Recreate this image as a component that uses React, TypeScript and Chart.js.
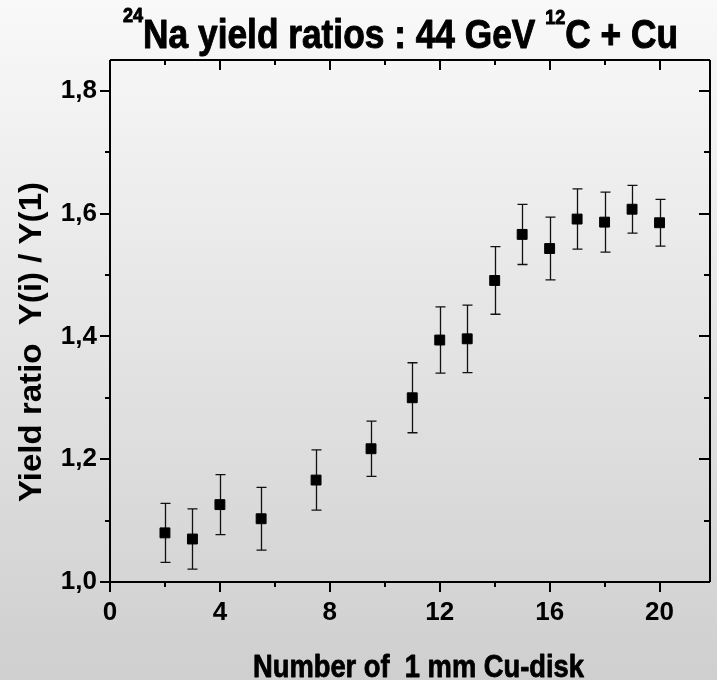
import React, { useEffect, useRef } from "react";
import { Chart, registerables } from "chart.js";

Chart.register(...registerables);

// Disk index (1 mm Cu disks) and measured 24Na yield ratio Y(i)/Y(1)
const diskNumber = [2, 3, 4, 5.5, 7.5, 9.5, 11, 12, 13, 14, 15, 16, 17, 18, 19, 20];
const yieldRatio = [
  1.08, 1.07, 1.126, 1.103, 1.166, 1.217, 1.3, 1.394, 1.396, 1.491, 1.566, 1.543, 1.591, 1.586,
  1.607, 1.585,
];
const ratioError = [
  0.048, 0.049, 0.049, 0.051, 0.049, 0.045, 0.057, 0.054, 0.055, 0.055, 0.049, 0.051, 0.049, 0.049,
  0.039, 0.038,
];

// Axis ranges and tick positions
const xRange = [0, 21.8];
const yRange = [1.0, 1.85];
const xMajorTicks = [0, 4, 8, 12, 16, 20];
const xMinorTicks = [2, 6, 10, 14, 18];
const yMajorTicks = [1.0, 1.2, 1.4, 1.6, 1.8];
const yMinorTicks = [1.1, 1.3, 1.5, 1.7];

const FONT = '"Liberation Sans", Arial, Helvetica, sans-serif';

type Run = { text: string; size: number; dy: number };

// Draw a sequence of text runs on one baseline, squeezed horizontally to span x0..x1
function drawFitted(
  ctx: CanvasRenderingContext2D,
  runs: Run[],
  x0: number,
  x1: number,
  baseline: number,
  heavy = 0
) {
  ctx.save();
  let total = 0;
  const widths = runs.map((r) => {
    ctx.font = `bold ${r.size}px ${FONT}`;
    const w = ctx.measureText(r.text).width;
    total += w;
    return w;
  });
  const sx = (x1 - x0) / total;
  ctx.translate(x0, baseline);
  ctx.scale(sx, 1);
  ctx.fillStyle = "#000";
  ctx.strokeStyle = "#000";
  ctx.lineWidth = heavy;
  ctx.lineJoin = "round";
  ctx.textAlign = "left";
  ctx.textBaseline = "alphabetic";
  let cx = 0;
  runs.forEach((r, i) => {
    ctx.font = `bold ${r.size}px ${FONT}`;
    ctx.fillText(r.text, cx, r.dy);
    if (heavy > 0) ctx.strokeText(r.text, cx, r.dy);
    cx += widths[i];
  });
  ctx.restore();
}

const backdrop = {
  id: "backdrop",
  beforeDraw(chart: any) {
    const { ctx, width, height } = chart;
    const g = ctx.createLinearGradient(0, 0, 0, height);
    g.addColorStop(0, "#f9f9f9");
    g.addColorStop(1, "#cfcfcf");
    ctx.save();
    ctx.fillStyle = g;
    ctx.fillRect(0, 0, width, height);
    ctx.restore();
  },
};

const errorBars = {
  id: "errorBars",
  beforeDatasetsDraw(chart: any) {
    const { ctx } = chart;
    const x = chart.scales.x;
    const y = chart.scales.y;
    ctx.save();
    ctx.strokeStyle = "#111";
    ctx.lineWidth = 1.3;
    diskNumber.forEach((d, i) => {
      const px = Math.round(x.getPixelForValue(d)) + 0.5;
      const top = y.getPixelForValue(yieldRatio[i] + ratioError[i]);
      const bot = y.getPixelForValue(yieldRatio[i] - ratioError[i]);
      ctx.beginPath();
      ctx.moveTo(px, top);
      ctx.lineTo(px, bot);
      ctx.moveTo(px - 5, top);
      ctx.lineTo(px + 5, top);
      ctx.moveTo(px - 5, bot);
      ctx.lineTo(px + 5, bot);
      ctx.stroke();
    });
    ctx.restore();
  },
};

const frame = {
  id: "frame",
  afterDraw(chart: any) {
    const { ctx, chartArea } = chart;
    const { left, right, top, bottom } = chartArea;
    const x = chart.scales.x;
    const y = chart.scales.y;
    ctx.save();
    ctx.strokeStyle = "#000";
    ctx.lineWidth = 2;
    ctx.beginPath();
    ctx.moveTo(left, top);
    ctx.lineTo(right + 1, top);
    ctx.moveTo(left, top);
    ctx.lineTo(left, bottom);
    ctx.lineTo(right + 1, bottom);
    ctx.moveTo(right + 1, top);
    ctx.lineTo(right + 1, bottom);
    ctx.stroke();

    const major = 10;
    const minor = 5;
    ctx.beginPath();
    const xTick = (v: number, len: number) => {
      const px = Math.round(x.getPixelForValue(v));
      ctx.moveTo(px, bottom);
      ctx.lineTo(px, bottom + len);
      ctx.moveTo(px, top);
      ctx.lineTo(px, top + len);
    };
    const yTick = (v: number, len: number) => {
      const py = Math.round(y.getPixelForValue(v));
      ctx.moveTo(left, py);
      ctx.lineTo(left - len, py);
      ctx.moveTo(right, py);
      ctx.lineTo(right - len, py);
    };
    xMajorTicks.forEach((v) => xTick(v, major));
    xMinorTicks.forEach((v) => xTick(v, minor));
    yMajorTicks.forEach((v) => yTick(v, major));
    yMinorTicks.forEach((v) => yTick(v, minor));
    ctx.stroke();
    ctx.restore();

    // Title with superscript mass numbers
    drawFitted(
      ctx,
      [
        { text: "24", size: 21, dy: -26 },
        { text: "Na yield ratios : 44 GeV ", size: 41, dy: 0 },
        { text: "12", size: 21, dy: -24 },
        { text: "C + Cu", size: 41, dy: 0 },
      ],
      123,
      678,
      48,
      1
    );

    // X axis title
    drawFitted(ctx, [{ text: "Number of  1 mm Cu-disk", size: 31, dy: 0 }], 253, 584, 677, 0.8);

    // Y axis title (rotated)
    ctx.save();
    ctx.translate(41, 342);
    ctx.rotate(-Math.PI / 2);
    drawFitted(ctx, [{ text: "Yield ratio  Y(i) / Y(1)", size: 31, dy: 0 }], -160, 160, 0);
    ctx.restore();
  },
};

export default function App() {
  const canvasRef = useRef<HTMLCanvasElement | null>(null);

  useEffect(() => {
    document.body.style.margin = "0";
    const canvas = canvasRef.current;
    if (!canvas) return;
    const chart = new Chart(canvas, {
      type: "scatter",
      data: {
        datasets: [
          {
            data: diskNumber.map((d, i) => ({ x: d, y: yieldRatio[i] })),
            pointStyle: "rect",
            pointRadius: 7,
            backgroundColor: "#000",
            borderColor: "#000",
            borderWidth: 1,
          },
        ],
      },
      options: {
        responsive: false,
        animation: false,
        devicePixelRatio: 1,
        layout: { padding: { top: 60, right: 0, bottom: 0, left: 0 } },
        plugins: {
          legend: { display: false },
          tooltip: { enabled: false },
          title: { display: false },
        },
        scales: {
          x: {
            type: "linear",
            min: xRange[0],
            max: xRange[1],
            grid: { display: false, drawTicks: false },
            border: { display: false },
            afterBuildTicks: (scale: any) => {
              scale.ticks = xMajorTicks.map((v) => ({ value: v }));
            },
            afterFit: (scale: any) => {
              scale.height = 98;
            },
            ticks: {
              color: "#000",
              padding: 15,
              maxRotation: 0,
              font: { family: FONT, size: 26, weight: "bold" },
              callback: (v: any) => String(v),
            },
          },
          y: {
            type: "linear",
            min: yRange[0],
            max: yRange[1],
            grid: { display: false, drawTicks: false },
            border: { display: false },
            afterBuildTicks: (scale: any) => {
              scale.ticks = yMajorTicks.map((v) => ({ value: v }));
            },
            afterFit: (scale: any) => {
              scale.width = 110;
            },
            ticks: {
              color: "#000",
              padding: 13,
              font: { family: FONT, size: 26, weight: "bold" },
              callback: (v: any) => Number(v).toFixed(1).replace(".", ","),
            },
          },
        },
      },
      plugins: [backdrop, errorBars, frame],
    });
    return () => chart.destroy();
  }, []);

  return (
    <div style={{ width: 717, height: 680 }}>
      <canvas ref={canvasRef} width={717} height={680} style={{ display: "block" }} />
    </div>
  );
}
